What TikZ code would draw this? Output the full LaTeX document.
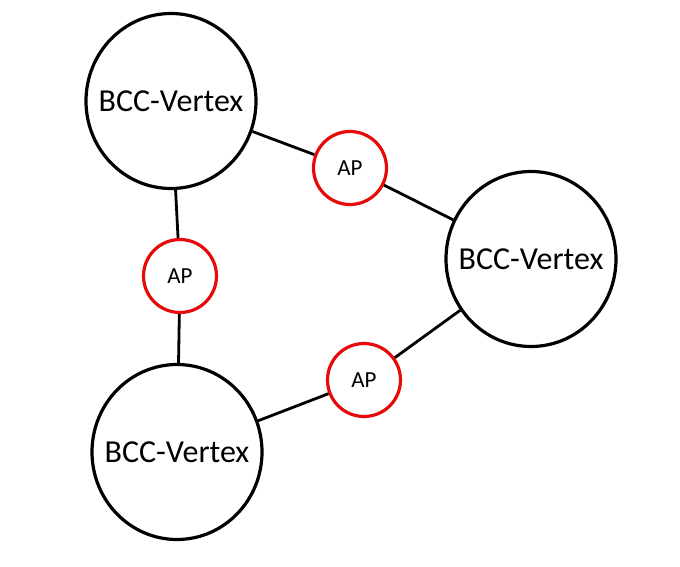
\documentclass[tikz,border=0pt]{standalone}
\usepackage{fontspec}
\setmainfont{Carlito}
\usetikzlibrary{shapes.geometric}
\definecolor{apred}{RGB}{230,10,10}
\begin{document}
\begin{tikzpicture}[x=1pt,y=-1pt,
  bcc/.style={ellipse,draw=black,line width=3.2pt,minimum width=170pt,minimum height=175pt,inner sep=0pt,font=\fontsize{32}{35}\selectfont},
  ap/.style={circle,draw=apred,line width=3.2pt,minimum size=73pt,inner sep=0pt,font=\fontsize{23}{26}\selectfont},
  conn/.style={draw=black,line width=2.8pt}]
\useasboundingbox (0,0) rectangle (680,567);
\node[bcc] (v1) at (171,101) {\makebox[0pt]{BCC-Vertex}};
\node[bcc] (v2) at (531,259) {\makebox[0pt]{BCC-Vertex}};
\node[bcc] (v3) at (177,452) {\makebox[0pt]{BCC-Vertex}};
\node[ap] (a1) at (350,168) {\makebox[0pt]{AP}};
\node[ap] (a2) at (180,276) {\makebox[0pt]{AP}};
\node[ap] (a3) at (364,380) {\makebox[0pt]{AP}};
\draw[conn] (v1) -- (a1);
\draw[conn] (a1) -- (v2);
\draw[conn] (v1) -- (a2);
\draw[conn] (a2) -- (v3);
\draw[conn] (v3) -- (a3);
\draw[conn] (a3) -- (v2);
\end{tikzpicture}
\end{document}
